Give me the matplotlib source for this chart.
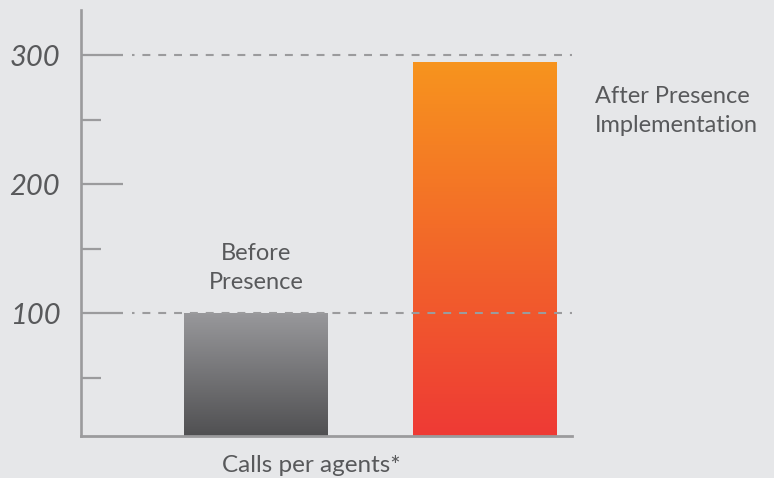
# Calls per agent before/after presence, gradient bars on a grey card.
import matplotlib.pyplot as plt
import numpy as np
from matplotlib.colors import LinearSegmentedColormap

labels = ["Before\nPresence", "After Presence\nImplementation"]
values = [100, 294]
ref_lines = [100, 300]
major_ticks = [100, 200, 300]
minor_ticks = [50, 150, 250]

BG = "#e6e7e9"
AXIS = "#9b9b9d"
TEXT = "#58595b"
GRADIENTS = [("#98989b", "#505052"), ("#f7941e", "#ee3a35")]

plt.rcParams["font.family"] = ["Lato", "DejaVu Sans"]

fig = plt.figure(figsize=(7.74, 4.78), dpi=100, facecolor=BG)
ax = fig.add_axes([81 / 774, 1 - 436 / 478, 491 / 774, 426 / 478])
ax.set_facecolor(BG)

x = np.arange(len(values))
ax.set_xlim(-0.766, 1.383)
ax.set_ylim(4.65, 335)

bars = ax.bar(x, values, width=0.63, color="none", zorder=2)
grad = np.linspace(0, 1, 256).reshape(-1, 1)
for rect, (top, bottom) in zip(bars, GRADIENTS):
    cmap = LinearSegmentedColormap.from_list("g", [top, bottom])
    x0, y0 = rect.get_x(), ax.get_ylim()[0]
    # origin="upper": first row (top colour) sits at the bar's top edge
    ax.imshow(grad, cmap=cmap, aspect="auto", zorder=2,
              extent=(x0, x0 + rect.get_width(), y0, rect.get_height()))

for v in ref_lines:
    ax.axhline(v, xmin=0.104, xmax=1.0, color=AXIS, lw=1.5,
               linestyle=(2.6, (3.8, 3.8)), zorder=3)

for s in ["top", "right"]:
    ax.spines[s].set_visible(False)
ax.spines["left"].set_color(AXIS)
ax.spines["left"].set_linewidth(1.9)
ax.spines["bottom"].set_color(AXIS)
ax.spines["bottom"].set_linewidth(2.0)

ax.set_xticks([])
ax.set_yticks(major_ticks)
ax.set_yticks(minor_ticks, minor=True)
ax.set_yticklabels([str(t) for t in major_ticks], style="italic",
                   fontsize=21, color=TEXT)
ax.tick_params(axis="y", which="major", direction="in", length=30,
               width=1.6, color=AXIS, pad=15)
ax.tick_params(axis="y", which="minor", direction="in", length=14.5,
               width=1.6, color=AXIS)

ax.text(0, 134.9, labels[0], ha="center", va="center", fontsize=17,
        color=TEXT, linespacing=1.45)
ax.text(1.484, 256.6, labels[1], ha="left", va="center", fontsize=17,
        color=TEXT, linespacing=1.45)

ax.set_xlabel("Calls per agents*", fontsize=17.5, color=TEXT)
ax.xaxis.set_label_coords(0.47, -0.045, transform=ax.transAxes)
ax.xaxis.label.set_va("top")

fig.savefig("out.png", dpi=100, facecolor=BG)
